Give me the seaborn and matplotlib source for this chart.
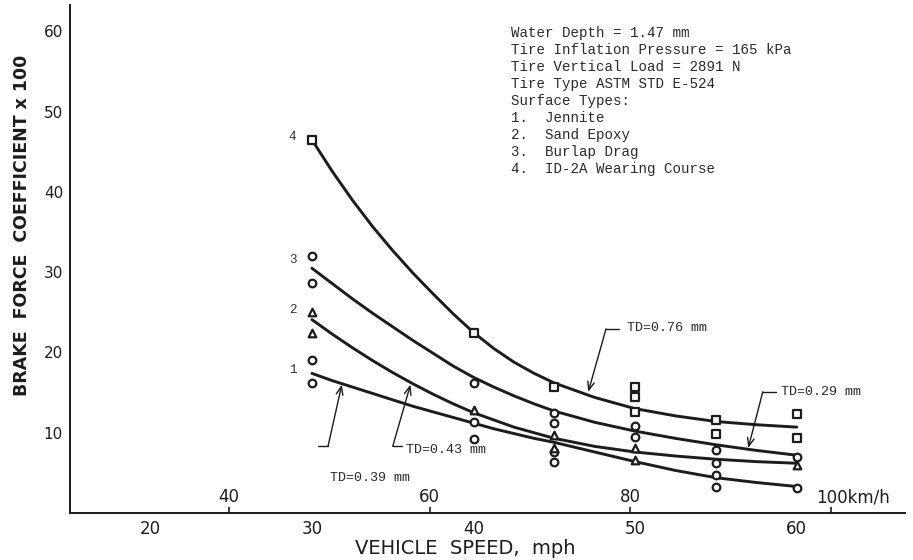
import numpy as np
import pandas as pd
import matplotlib
matplotlib.use("Agg")
import matplotlib.pyplot as plt
import matplotlib.transforms as mtransforms
import seaborn as sns

# ---------------- data ----------------
# fitted curves: brake force coefficient x 100 vs speed (mph)
curve_speed = [30, 31.25, 32.5, 33.75, 35, 36.25, 37.5, 38.75, 40, 41.25, 42.5, 43.75,
               45, 47.5, 50, 52.5, 55, 57.5, 60]
curve4 = [46.5, 42.6, 39.0, 35.7, 32.7, 29.9, 27.3, 24.8, 22.5, 20.5, 18.8, 17.4,
          16.2, 14.4, 13.0, 12.1, 11.4, 11.0, 10.7]
curve3 = [30.5, 28.6, 26.7, 24.9, 23.2, 21.5, 19.9, 18.3, 16.9, 15.7, 14.6, 13.6,
          12.7, 11.3, 10.2, 9.3, 8.5, 7.8, 7.2]
curve2 = [24.1, 22.3, 20.6, 19.0, 17.5, 16.1, 14.8, 13.6, 12.5, 11.6, 10.7, 10.0,
          9.3, 8.3, 7.6, 7.1, 6.7, 6.4, 6.2]
curve1 = [17.4, 16.5, 15.7, 14.9, 14.1, 13.3, 12.6, 11.9, 11.2, 10.5, 9.9, 9.3,
          8.8, 7.6, 6.4, 5.3, 4.4, 3.8, 3.3]
curve_names = ["4", "3", "2", "1"]

# measured points
sq_speed = [30, 40, 45, 50, 50, 50, 55, 55, 60, 60]
sq_value = [46.5, 22.4, 15.7, 15.7, 14.5, 12.6, 11.6, 9.9, 12.3, 9.3]
circ_speed = [30, 30, 30, 30, 40, 40, 40, 45, 45, 45, 45, 50, 50, 55, 55, 55, 55, 60, 60]
circ_value = [32.0, 28.6, 19.1, 16.2, 16.2, 11.3, 9.2, 12.5, 11.2, 7.6, 6.4,
              10.8, 9.5, 7.9, 6.2, 4.7, 3.3, 7.0, 3.1]
tri_speed = [30, 30, 40, 45, 45, 50, 50, 60]
tri_value = [25.1, 22.4, 12.8, 9.7, 8.1, 8.1, 6.6, 6.0]

# axis ticks
mph_ticks = [20, 30, 40, 50, 60]
y_ticks = [10, 20, 30, 40, 50, 60]
kmh_ticks = [40, 60, 80, 100]
kmh_labels = ["40", "60", "80", "100km/h"]

info_lines = [
    "Water Depth = 1.47 mm",
    "Tire Inflation Pressure = 165 kPa",
    "Tire Vertical Load = 2891 N",
    "Tire Type ASTM STD E-524",
    "Surface Types:",
    "1.  Jennite",
    "2.  Sand Epoxy",
    "3.  Burlap Drag",
    "4.  ID-2A Wearing Course",
]

td_labels = ["TD=0.76 mm", "TD=0.29 mm", "TD=0.43 mm", "TD=0.39 mm"]

# ---------------- style ----------------
sns.set_theme(style="white")
plt.rcParams["font.family"] = ["DejaVu Sans"]
INK = "#1c1c1c"
MONO = ["Liberation Mono", "DejaVu Sans Mono"]

fig = plt.figure(figsize=(9.13, 5.6), dpi=100)
fig.patch.set_facecolor("white")
W, H = 913, 560
ax = fig.add_axes([70 / W, 1 - 513 / H, (905 - 70) / W, (513 - 5) / H])
ax.set_facecolor("white")

# curves
for vals in [curve4, curve3, curve2, curve1]:
    sns.lineplot(x=curve_speed, y=vals, ax=ax, color=INK, linewidth=2.1,
                 errorbar=None, sort=False, solid_joinstyle="round",
                 solid_capstyle="round")

# points
mk = dict(color="white", edgecolor=INK, linewidth=1.6, s=30, zorder=5, legend=False)
sns.scatterplot(x=sq_speed, y=sq_value, marker="s", ax=ax, **mk)
sns.scatterplot(x=circ_speed, y=circ_value, marker="o", ax=ax, **mk)
sns.scatterplot(x=tri_speed, y=tri_value, marker="^", ax=ax, **mk)

ax.set_xlim(15.03, 66.7)
ax.set_ylim(0, 63.3)
sns.despine(ax=ax)
for s in ["left", "bottom"]:
    ax.spines[s].set_color(INK)
    ax.spines[s].set_linewidth(1.4)

ax.set_xticks(mph_ticks)
ax.set_yticks(y_ticks)
ax.tick_params(axis="both", colors=INK, direction="out", length=4, width=1.2)
ax.tick_params(axis="y", labelsize=11, pad=1)
ax.tick_params(axis="x", labelsize=12, pad=1)

sec = ax.secondary_xaxis(0, functions=(lambda m: m * 1.609344, lambda k: k / 1.609344))
sec.set_alignment("top")
sec.spines["top"].set_visible(False)
sec.set_xticks(kmh_ticks, labels=kmh_labels)
sec.tick_params(axis="x", colors=INK, direction="out", length=4, width=1.2,
                labelsize=12, pad=1)
last = sec.get_xticklabels()[-1]
last.set_horizontalalignment("left")
last.set_transform(last.get_transform() +
                   mtransforms.ScaledTranslation(-0.15, 0, fig.dpi_scale_trans))

ax.set_ylabel("BRAKE  FORCE  COEFFICIENT x 100", fontsize=12.5, fontweight="bold",
              color=INK, rotation=90, ha="center", va="center")
ax.yaxis.set_label_coords((22 - 70) / 835, (513 - 225) / 508)
ax.set_xlabel("VEHICLE  SPEED,  mph", fontsize=14, color=INK, va="center")
ax.xaxis.set_label_coords((465 - 70) / 835, -(549 - 513) / 508)

# curve numbers
for name, vals, dy in zip(curve_names, [curve4, curve3, curve2, curve1], [0.3, 1.0, 1.2, 0.4]):
    ax.text(28.8, vals[0] + dy, name, family=MONO, fontsize=9, color="#333333",
            ha="center", va="center")

# info block
for i, line in enumerate(info_lines):
    fig.text(511 / W, 1 - (33 + 17.0 * i) / H, line, family=MONO, fontsize=10.2,
             color="#2a2a2a", ha="left", va="center")

# tread-depth callouts (text pos, bend of leader, end of short tick, arrow tip)
td_text = [(49.5, 23.0), (59.0, 15.1), (35.8, 7.8), (31.1, 4.3)]
td_bend = [(48.2, 22.95), (57.9, 15.1), (35.0, 8.3), (31.0, 8.35)]
td_hend = [(49.0, 22.95), (58.7, 15.1), (35.6, 8.3), (30.4, 8.35)]
td_tip = [(47.1, 15.1), (57.0, 8.1), (36.1, 16.0), (31.85, 16.0)]
for lab, tp, bp, hp, tip in zip(td_labels, td_text, td_bend, td_hend, td_tip):
    ax.text(tp[0], tp[1], lab, family=MONO, fontsize=9.6, color="#2a2a2a",
            ha="left", va="center")
    ax.plot([hp[0], bp[0]], [hp[1], bp[1]], color=INK, linewidth=1.0)
    ax.annotate("", xy=tip, xytext=bp,
                arrowprops=dict(arrowstyle="->,head_length=0.5,head_width=0.2",
                                color=INK, linewidth=1.0, shrinkA=0, shrinkB=0))

fig.savefig("out.png", dpi=100, facecolor="white")
